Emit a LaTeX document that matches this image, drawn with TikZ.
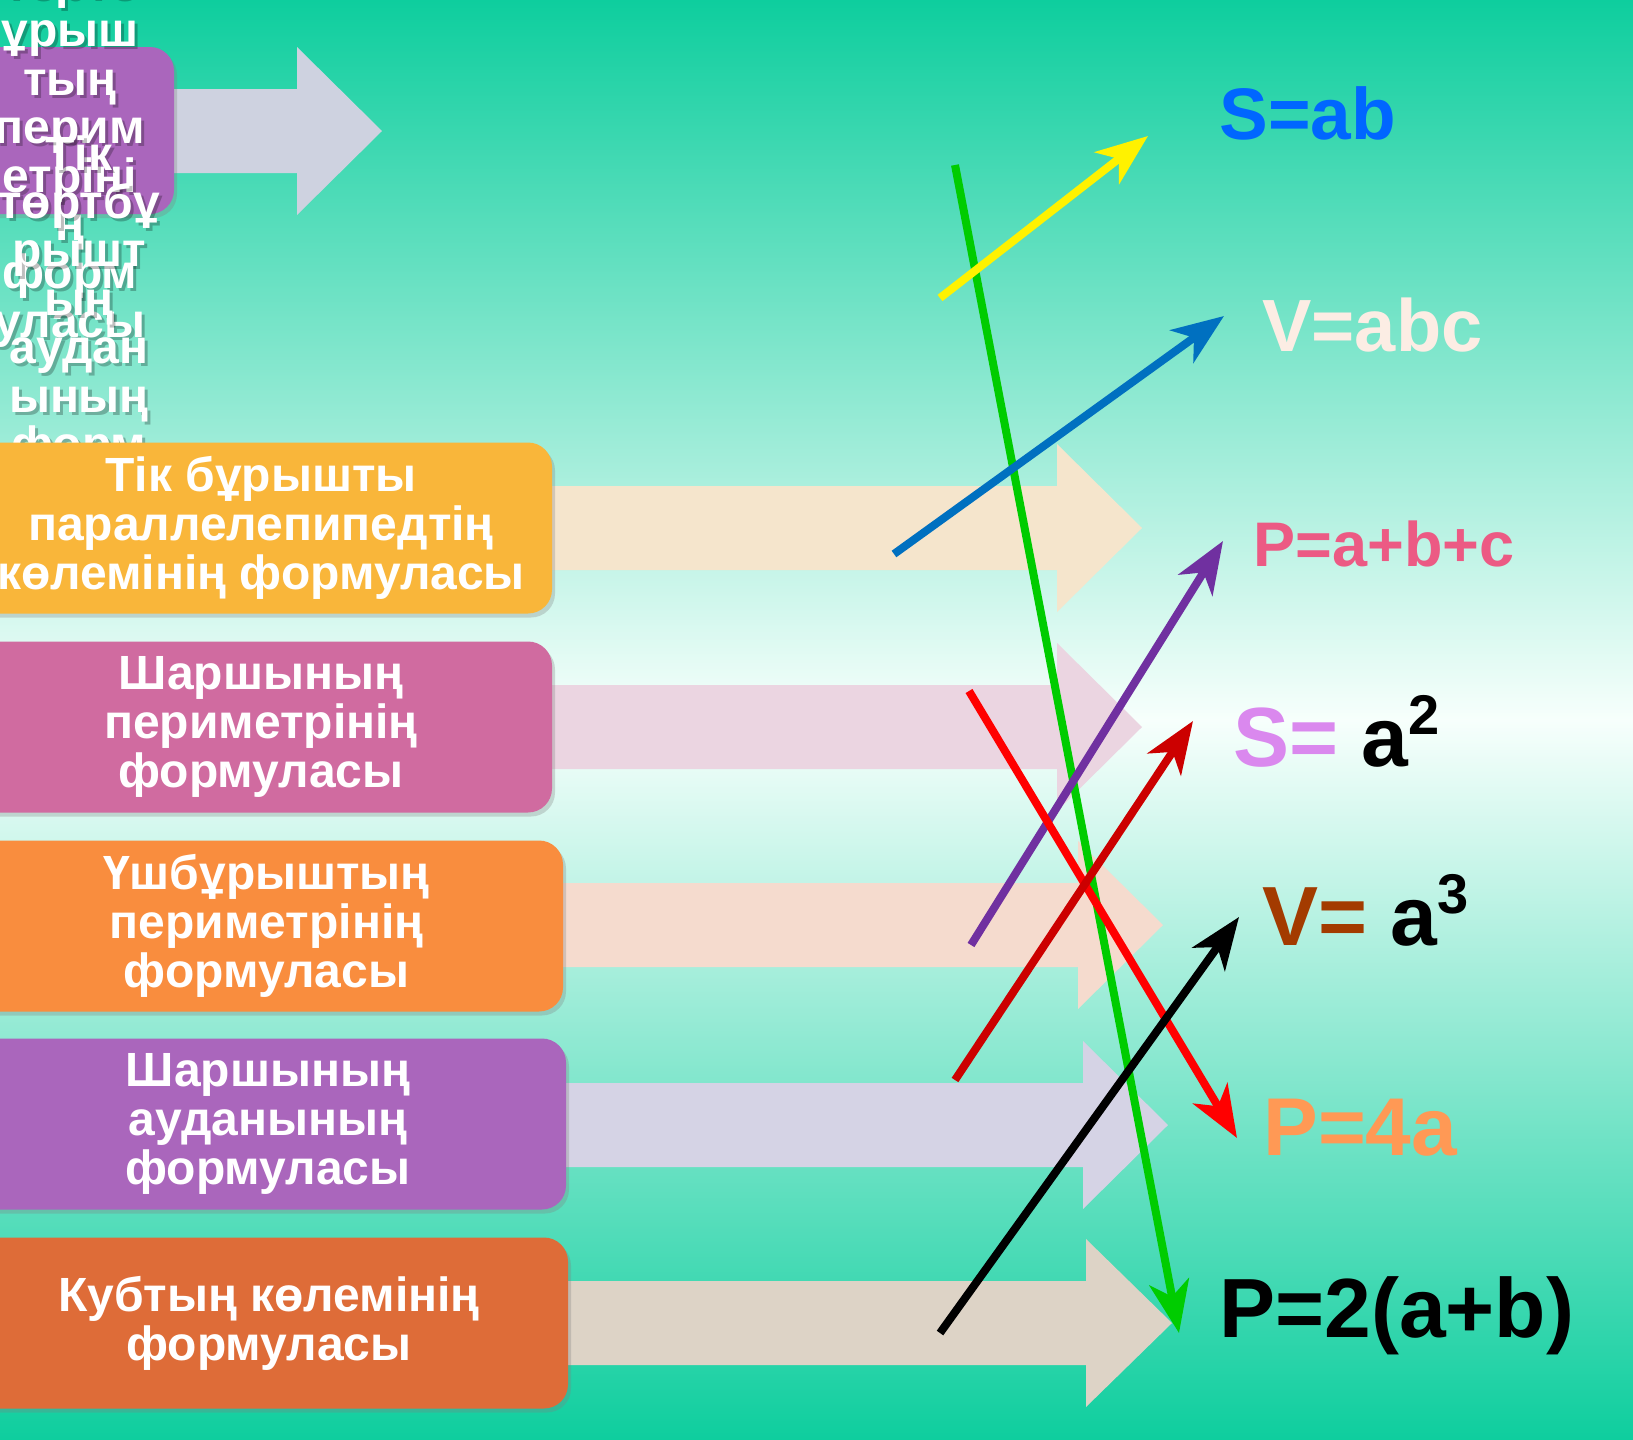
\documentclass[tikz,border=0pt]{standalone}
\usepackage{fontspec}
\setmainfont{Liberation Sans}
\usepackage{tikz}
\usetikzlibrary{arrows.meta,shadows}
\definecolor{bgteal}{HTML}{0ECE9E}
\definecolor{bglight}{HTML}{F7FFFC}
\definecolor{boxpurple}{HTML}{AA66BC}
\definecolor{boxyellow}{HTML}{F9B63A}
\definecolor{boxpink}{HTML}{D06BA0}
\definecolor{boxorange}{HTML}{F98D3E}
\definecolor{boxrust}{HTML}{DE6C38}
\definecolor{bandlilac}{HTML}{CED2E0}
\definecolor{bandcream}{HTML}{F5E5CC}
\definecolor{bandpink}{HTML}{EBD5E1}
\definecolor{bandpeach}{HTML}{F5DBCE}
\definecolor{bandmauve}{HTML}{D5D3E5}
\definecolor{bandsand}{HTML}{DDD3C6}
\definecolor{fsblue}{HTML}{0066FF}
\definecolor{fvcream}{HTML}{FCEDE4}
\definecolor{fppink}{HTML}{EC5A84}
\definecolor{fsviolet}{HTML}{DA88EE}
\definecolor{fvbrown}{HTML}{A33B00}
\definecolor{fporange}{HTML}{FF9955}
\definecolor{linkgreen}{HTML}{00CC00}
\definecolor{linkblue}{HTML}{0070C0}
\definecolor{linkpurple}{HTML}{7030A0}
\definecolor{linkdarkred}{HTML}{CC0000}
\tikzset{
  rowbox/.style={rounded corners=12pt,text=white,align=center,inner sep=0pt,
    font=\bfseries\fontsize{24}{24.5}\selectfont,minimum height=85.5pt,
    drop shadow={shadow xshift=1.5pt,shadow yshift=-2pt,opacity=.3}},
  spilltext/.style={anchor=north,inner sep=0pt,align=center,text=white,
    font=\bfseries\fontsize{24}{24.2}\selectfont},
  formulalabel/.style={anchor=base west,inner sep=0pt,
    font=\bfseries\fontsize{#1}{#1}\selectfont},
  formulalabel/.default=42,
  matchline/.style={line width=4pt,-{Stealth[length=26pt,width=20pt,inset=7.5pt]}}
}

\begin{document}
\begin{tikzpicture}[x=0.5pt,y=-0.5pt,
  shadowcopy/.style={text=black,opacity=.25}
]
  \useasboundingbox (0,0) rectangle (1633,1440);
  \shade[top color=bgteal,bottom color=bgteal,middle color=bglight]
    (0,0) rectangle (1633,1440);

  \foreach \cy/\hx/\tx/\col in {131/297/382/bandlilac,528/1057/1142/bandcream,
      727/1057/1142/bandpink,925/1078/1163/bandpeach,1125/1083/1168/bandmauve,
      1323/1086/1172/bandsand}
    \fill[\col] (100,{\cy-42}) -- (\hx,{\cy-42}) -- (\hx,{\cy-84}) -- (\tx,\cy)
      -- (\hx,{\cy+84}) -- (\hx,{\cy+42}) -- (100,{\cy+42}) -- cycle;

  \node[rowbox,fill=boxpurple,minimum width=102pt,minimum height=83.5pt]
    (rectper) at (72,130.5) {};
  \node[spilltext,shadowcopy] (spillpershadow) at (73,-82)
    {Тік\\төртб\\ұрыш\\тың\\перим\\етріні\\ң\\форм\\уласы};
  \node[spilltext] (spillper) at (70,-85)
    {Тік\\төртб\\ұрыш\\тың\\перим\\етріні\\ң\\форм\\уласы};
  \node[spilltext,shadowcopy] (spillareashadow) at (82,138)
    {Тік\\төртбұ\\рышт\\ың\\аудан\\ының\\форм\\уласы};
  \node[spilltext] (spillarea) at (79,135)
    {Тік\\төртбұ\\рышт\\ың\\аудан\\ының\\форм\\уласы};

  \node[rowbox,fill=boxyellow,minimum width=291pt] (boxvol) at (261,528)
    {Тік бұрышты\\параллелепипедтің\\көлемінің формуласы};
  \node[rowbox,fill=boxpink,minimum width=291pt] (sqper) at (261,727)
    {Шаршының\\периметрінің\\формуласы};
  \node[rowbox,fill=boxorange,minimum width=296.5pt] (triper) at (266.5,926)
    {Үшбұрыштың\\периметрінің\\формуласы};
  \node[rowbox,fill=boxpurple,minimum width=298pt] (sqarea) at (268,1124)
    {Шаршының\\ауданының\\формуласы};
  \node[rowbox,fill=boxrust,minimum width=299pt] (cubevol) at (269,1323)
    {Кубтың көлемінің\\формуласы};

  \node[formulalabel=36.5,text=fsblue] (sab) at (1219,139) {S=ab};
  \node[formulalabel=37,text=fvcream] (vabc) at (1262,351) {V=abc};
  \node[formulalabel=31.5,text=fppink] (pabc) at (1253,566) {P=a+b+c};
  \node[formulalabel] (sa2) at (1233,766)
    {\textcolor{fsviolet}{S=} a\raisebox{16pt}{\fontsize{28}{28}\selectfont 2}};
  \node[formulalabel] (va3) at (1262,945)
    {\textcolor{fvbrown}{V=} a\raisebox{16pt}{\fontsize{28}{28}\selectfont 3}};
  \node[formulalabel=41,text=fporange] (p4a) at (1263,1155) {P=4a};
  \node[formulalabel] (p2ab) at (1219,1337) {P=2(a+b)};

  \coordinate (gstart) at (955,165);   \coordinate (gtip) at (1179,1333);
  \coordinate (ystart) at (940,298);   \coordinate (ytip) at (1148,136);
  \coordinate (bstart) at (894,554);   \coordinate (btip) at (1224,316);
  \coordinate (pstart) at (971,945);   \coordinate (ptip) at (1223,541);
  \coordinate (rstart) at (969,691);   \coordinate (rtip) at (1237,1138);
  \coordinate (dstart) at (955,1080);  \coordinate (dtip) at (1193,721);
  \coordinate (kstart) at (940,1333);  \coordinate (ktip) at (1239,917);

  \draw[matchline,draw=linkgreen] (gstart) -- (gtip);
  \draw[matchline,draw=yellow] (ystart) -- (ytip);
  \draw[matchline,draw=linkblue] (bstart) -- (btip);
  \draw[matchline,draw=linkpurple] (pstart) -- (ptip);
  \draw[matchline,draw=red] (rstart) -- (rtip);
  \draw[matchline,draw=linkdarkred] (dstart) -- (dtip);
  \draw[matchline,draw=black] (kstart) -- (ktip);
\end{tikzpicture}
\end{document}
